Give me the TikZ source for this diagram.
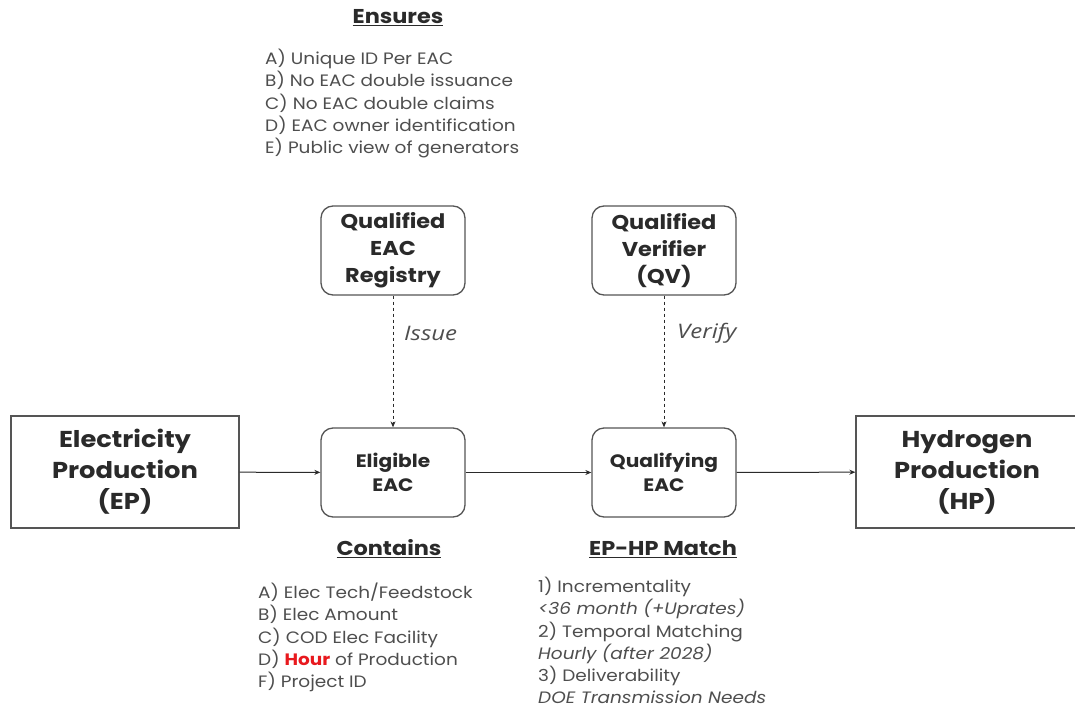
\documentclass[tikz,border=0pt]{standalone}
\usepackage{fontspec}
\setmainfont{Poppins}[FakeStretch=1.12]
\newfontfamily\osans{Open Sans}[FakeStretch=1.2]
\usetikzlibrary{arrows.meta}
\definecolor{txt}{HTML}{2A2A2A}
\definecolor{lst}{HTML}{4E4E4E}
\definecolor{brd}{HTML}{555555}
\definecolor{hot}{HTML}{E8191E}
\begin{document}
\begin{tikzpicture}[x=1pt,y=-1pt,
  sqbox/.style={draw=brd, line width=1.3pt, align=center, text=txt, inner sep=0pt,
    minimum height=112pt, font=\bfseries\fontsize{23}{31}\selectfont},
  rbox/.style={draw=brd, line width=1.3pt, align=center, text=txt, inner sep=0pt,
    rounded corners=12pt, minimum width=144pt, minimum height=89pt},
  bigt/.style={font=\bfseries\fontsize{20}{27}\selectfont},
  smallt/.style={font=\bfseries\fontsize{18}{24}\selectfont},
  head/.style={text=txt, font=\bfseries\fontsize{20}{22}\selectfont, inner sep=0pt},
  lst/.style={text=lst, align=left, anchor=north west, inner sep=0pt,
    font=\fontsize{16.5}{22.2}\selectfont},
  arr/.style={draw=txt, line width=1pt, -{Stealth[length=6pt,width=5pt]}},
  dsh/.style={draw=txt, line width=1pt, dash pattern=on 3pt off 3pt, -{Stealth[length=6pt,width=5pt]}},
  lbl/.style={text=lst, font=\osans\itshape\fontsize{20}{22}\selectfont, inner sep=0pt, anchor=west}]
\useasboundingbox (0,0) rectangle (1075,706);

\node[sqbox, minimum width=228pt] (ep) at (125,472) {Electricity\\Production\\(EP)};
\node[sqbox, minimum width=222pt] (hp) at (967,472) {Hydrogen\\Production\\(HP)};

\node[rbox, smallt] (elig) at (393,472.5) {Eligible\\EAC};
\node[rbox, smallt] (qual) at (664,472.5) {Qualifying\\EAC};
\node[rbox, bigt] (reg) at (393,250.5) {Qualified\\EAC\\Registry};
\node[rbox, bigt] (ver) at (664,250.5) {Qualified\\Verifier\\(QV)};

\draw[arr] (ep) -- (elig);
\draw[arr] (elig) -- (qual);
\draw[arr] (qual) -- (hp);
\draw[dsh] (reg) -- (elig);
\draw[dsh] (ver) -- (qual);

\node[lbl] (issue) at (404,333) {Issue};
\node[lbl] (verify) at (677,333) {Verify};

\node[head] (ensh) at (398,18) {\underline{Ensures}};
\node[lst] (ensl) at (265,49) {A) Unique ID Per EAC\\B) No EAC double issuance\\C) No EAC double claims\\D) EAC owner identification\\E) Public view of generators};

\node[head] (conh) at (389,549) {\underline{Contains}};
\node[lst] (conl) at (258,583) {A) Elec Tech/Feedstock\\B) Elec Amount\\C) COD Elec Facility\\D) {\bfseries\color{hot}Hour} of Production\\F) Project ID};

\node[head] (math) at (663,549) {\underline{EP-HP Match}};
\node[lst] (matl) at (538,577) {1) Incrementality\\\textit{<36 month (+Uprates)}\\2) Temporal Matching\\\textit{Hourly (after 2028)}\\3) Deliverability\\\textit{DOE Transmission Needs}};
\end{tikzpicture}
\end{document}
